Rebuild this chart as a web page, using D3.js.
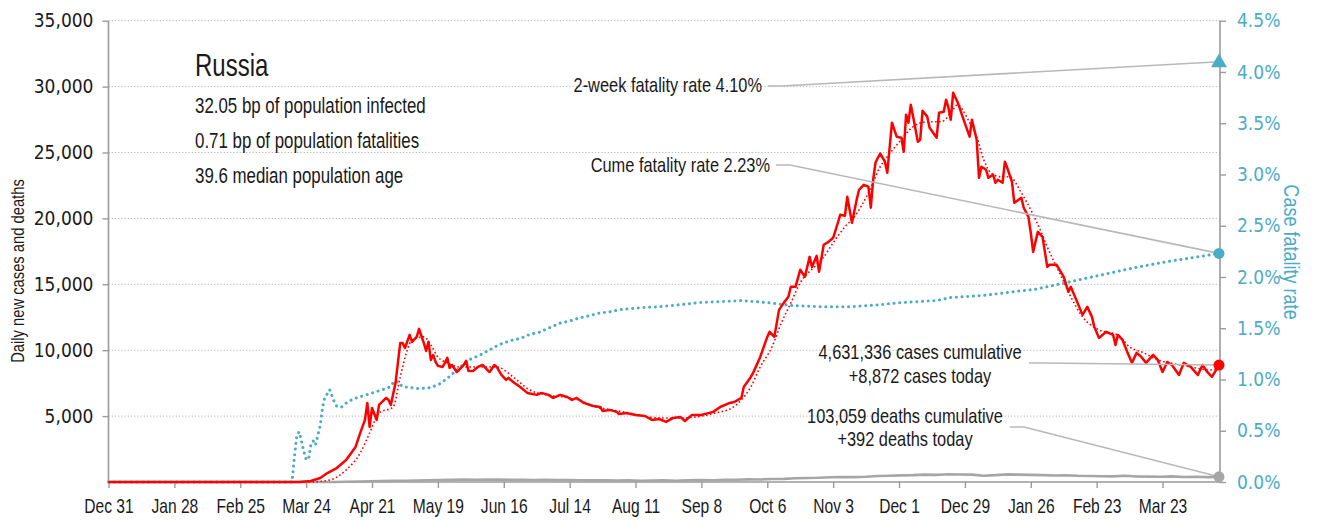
<!DOCTYPE html>
<html>
<head>
<meta charset="utf-8">
<script src="https://cdn.jsdelivr.net/npm/d3@7"></script>
<style>
  body { margin: 0; background: #fff; }
  text { font-family: "Liberation Sans", Arial, sans-serif; }
</style>
</head>
<body>
<svg id="chart" width="1319" height="522"></svg>
<script>
// ---- data ---------------------------------------------------------------
const startDate = "2019-12-31";
const endDate = "2021-04-16";

// daily new cases (day offset from start, count)
const caseDays = [0,81,86,90,93,97,101,105,107,109,110,111,112,114,115,118,119,120,122,124,125,126,128,129,131,132,134,135,136,137,138,139,140,142,143,144,145,146,148,149,151,152,153,155,157,159,161,162,164,165,167,169,170,172,175,178,182,184,187,189,192,195,197,199,202,206,209,210,213,216,217,220,224,228,231,234,237,240,243,245,248,252,257,260,264,266,269,270,273,274,277,280,281,283,285,287,289,290,292,294,296,298,299,301,302,304,306,308,310,311,313,314,316,318,319,321,323,324,325,326,327,328,330,331,333,334,335,337,338,339,340,341,342,344,345,346,348,349,352,353,355,356,357,358,359,361,363,366,367,369,370,371,373,374,376,377,378,380,381,382,384,385,388,389,391,392,393,395,397,399,400,403,406,408,409,411,414,416,418,419,421,424,427,428,429,431,433,435,437,439,441,444,446,448,450,452,455,457,460,463,465,467,469,472];
const caseCounts = [0,0,80,300,680,1060,1670,2660,3720,4710,6000,4180,5620,4710,5850,6380,6230,5850,7520,10550,10550,10170,11160,10630,11010,11620,10550,9950,10630,9260,9640,9110,8810,8730,9040,9420,8660,8880,8350,8500,8880,9190,8430,8430,8730,8880,8500,8350,8880,8730,8120,7750,7900,7590,7210,6760,6610,6760,6610,6380,6610,6450,6230,6380,6000,5770,5690,5390,5470,5320,5160,5240,5090,5010,4710,4780,4560,4860,4940,4630,5090,5090,5320,5690,6000,6070,6380,7210,7970,8280,9490,11010,11390,11010,13060,13590,14050,14810,14810,16100,15570,17080,16320,17160,15950,18000,18220,18530,19670,20270,20200,21640,19670,21410,22170,22550,22400,20810,22930,24220,24600,24910,24300,23460,27260,26730,26200,26120,25060,27870,27260,28630,27720,25820,25970,28170,27720,26880,26120,28020,28090,29010,28400,27490,29540,28780,27720,26200,27490,25970,23080,23920,23690,23080,23310,22700,22930,22700,24300,23840,22780,21180,21560,20810,20120,18910,17460,18980,18600,16320,16480,16480,15570,14430,14810,13970,12680,13290,12530,11770,10930,11390,11160,10400,11160,10780,9870,9040,9800,9490,9040,9640,9260,8350,9110,8880,8120,9040,8730,8120,8880,8350,7970,8872];

// 7-day average of new cases
const avgDays = [0,86,94,101,107,111,115,121,124,127,129,134,137,140,144,149,158,165,172,179,186,193,200,207,214,221,229,235,243,250,258,265,269,273,277,282,286,290,294,300,304,308,313,317,323,328,331,337,342,348,354,358,361,363,366,369,372,375,379,383,388,392,396,399,405,409,414,421,429,434,440,446,451,460,468,472];
const avgCounts = [0,0,150,910,2200,3720,5240,5690,7970,10020,10780,11010,10400,9490,9040,8730,8730,8730,7970,6990,6610,6450,6230,5690,5470,5240,4940,4860,4860,4940,5240,5620,6230,7210,8730,10250,12070,13590,15110,16320,17080,18150,19360,20120,21940,23920,24680,25970,26960,27330,27330,28020,28630,28250,27260,26200,24450,23460,23160,23160,21940,20650,19130,17840,15570,14050,12530,11540,11160,10250,9800,9260,9040,8730,8500,8660];

// daily deaths
const deathDays = [0,81,96,101,106,111,116,121,126,131,136,141,146,151,156,161,166,171,176,181,186,191,196,201,206,211,216,221,226,231,236,241,246,251,257,262,267,272,277,282,287,292,297,302,307,312,317,322,327,332,337,342,347,352,357,362,367,372,377,382,387,392,397,402,407,412,417,422,427,432,437,442,447,452,457,462,467,472];
const deathCounts = [0,0,5,15,30,50,80,100,90,110,130,150,170,180,170,190,180,160,170,150,160,140,150,130,120,130,110,120,100,110,120,100,130,150,130,160,170,200,190,230,240,280,300,320,360,380,370,400,450,470,500,520,560,540,590,570,560,480,520,580,560,540,520,490,500,470,460,440,430,470,420,410,400,430,380,400,370,392];

// cumulative case fatality rate, percent
const cfrDays = [0,77,78,79,80,81,82,83,84,85,86,87,88,89,90,91,92,93,94,95,96,97,99,101,104,108,111,115,119,122,125,132,137,141,145,149,153,158,162,166,171,175,179,183,187,192,196,200,204,209,213,217,226,234,243,251,261,269,280,291,303,316,328,337,352,358,372,386,394,400,408,422,436,450,464,472];
const cfrRates = [0,0,0,0.24,0.45,0.49,0.40,0.30,0.22,0.22,0.36,0.40,0.36,0.46,0.55,0.73,0.83,0.86,0.90,0.84,0.78,0.74,0.73,0.77,0.81,0.84,0.86,0.89,0.92,0.99,0.93,0.91,0.92,0.96,1.03,1.11,1.19,1.24,1.29,1.34,1.38,1.40,1.44,1.46,1.50,1.55,1.57,1.60,1.62,1.65,1.66,1.68,1.70,1.71,1.73,1.75,1.76,1.77,1.75,1.72,1.71,1.71,1.73,1.75,1.77,1.80,1.82,1.86,1.88,1.91,1.95,2.02,2.09,2.15,2.20,2.23];

const twoWeekRate = 4.10;
const cumeRate = 2.23;
const casesToday = 8872;
const deathsToday = 392;
const casesCumulative = 4631336;
const deathsCumulative = 103059;

const tickDates = ["2019-12-31","2020-01-28","2020-02-25","2020-03-24","2020-04-21","2020-05-19","2020-06-16","2020-07-14","2020-08-11","2020-09-08","2020-10-06","2020-11-03","2020-12-01","2020-12-29","2021-01-26","2021-02-23","2021-03-23"];
const countTicks = [5000,10000,15000,20000,25000,30000,35000];
const rateTicks = [0,0.5,1,1.5,2,2.5,3,3.5,4,4.5];

const country = "Russia";
const infoLines = ["32.05 bp of population infected", "0.71 bp of population fatalities", "39.6 median population age"];

// ---- setup --------------------------------------------------------------
const svg = d3.select("#chart");
const parse = d3.utcParse("%Y-%m-%d");
const start = parse(startDate);
const dayToDate = d => d3.utcDay.offset(start, d);

const plotLeft = 108.5, plotRight = 1220, plotTop = 20.7, plotBottom = 482;
const x = d3.scaleUtc().domain([start, parse(endDate)]).range([plotLeft, 1219]);
const yL = d3.scaleLinear().domain([0, 35000]).range([plotBottom, plotTop]);
const yR = d3.scaleLinear().domain([0, 4.5]).range([plotBottom, plotTop]);

const red = "#ff0000", blue = "#4bacc6", gray = "#a6a6a6", axisGray = "#9a9a9a";
const textColor = "#1a1a1a";
const narrow = 0.82;            // horizontal squeeze for a condensed look
const tickFont = '"DejaVu Sans Condensed","DejaVu Sans",sans-serif';

const casesData = caseDays.map((d, i) => ({ date: dayToDate(d), v: caseCounts[i] }));
const avgData = avgDays.map((d, i) => ({ date: dayToDate(d), v: avgCounts[i] }));
const deathData = deathDays.map((d, i) => ({ date: dayToDate(d), v: deathCounts[i] }));
const cfrData = cfrDays.map((d, i) => ({ date: dayToDate(d), v: cfrRates[i] }));
const lastDate = casesData[casesData.length - 1].date;

// condensed label: positioned group, squeezed text inside
function label(transform, str, size, anchor = "start", color = textColor, squeeze = narrow) {
  const g = svg.append("g").attr("transform", transform);
  g.append("text").attr("transform", `scale(${squeeze},1)`)
    .attr("text-anchor", anchor).attr("fill", color)
    .style("font-size", size + "px").text(str);
  return g;
}

// ---- grid ---------------------------------------------------------------
svg.append("g").selectAll("line").data(countTicks).join("line")
  .attr("x1", plotLeft).attr("x2", plotRight)
  .attr("y1", d => yL(d)).attr("y2", d => yL(d))
  .attr("stroke", "#b4b4b4").attr("stroke-width", 1)
  .attr("stroke-dasharray", "1.2 2");

// ---- axes ---------------------------------------------------------------
function styleAxis(g) {
  g.select(".domain").attr("stroke", axisGray).attr("stroke-width", 1.6);
  g.selectAll(".tick line").attr("stroke", axisGray).attr("stroke-width", 1.4);
}

const xAxis = svg.append("g").attr("transform", `translate(0,${plotBottom})`)
  .call(d3.axisBottom(x).tickValues(tickDates.map(parse)).tickFormat(d3.utcFormat("%b %-d"))
    .tickSize(6).tickSizeOuter(0).tickPadding(11));
xAxis.select(".domain").attr("d", `M${plotLeft},0H${plotRight}`);
styleAxis(xAxis);
xAxis.selectAll(".tick text").attr("fill", textColor).attr("transform", `scale(0.78,1)`)
  .style("font-size", "20px").style("font-family", '"Liberation Sans",Arial,sans-serif');

const yAxisL = svg.append("g").attr("transform", `translate(${plotLeft},0)`)
  .call(d3.axisLeft(yL).tickValues(countTicks).tickFormat(d3.format(",")).tickSize(6).tickSizeOuter(0).tickPadding(9));
yAxisL.select(".domain").attr("d", `M0,${plotBottom}V${plotTop}`);
styleAxis(yAxisL);
yAxisL.selectAll(".tick text").attr("fill", textColor).style("font-size", "19px").style("font-family", tickFont);

const yAxisR = svg.append("g").attr("transform", `translate(${plotRight},0)`)
  .call(d3.axisRight(yR).tickValues(rateTicks).tickFormat(d => d.toFixed(1) + "%").tickSize(6).tickSizeOuter(0).tickPadding(11));
yAxisR.select(".domain").attr("d", `M0,${plotBottom}V${plotTop}`);
styleAxis(yAxisR);
yAxisR.selectAll(".tick text").attr("fill", blue).style("font-size", "19px").style("font-family", tickFont);

// axis titles
label(`translate(24,271) rotate(-90)`, "Daily new cases and deaths", 18, "middle");
label(`translate(1284,252) rotate(90)`, "Case fatality rate", 22, "middle", blue);

// ---- series -------------------------------------------------------------
const lineL = d3.line().x(d => x(d.date)).y(d => yL(d.v));
const lineR = d3.line().x(d => x(d.date)).y(d => yR(d.v));

svg.append("path").datum(deathData).attr("d", lineL)
  .attr("fill", "none").attr("stroke", gray).attr("stroke-width", 2.6).attr("stroke-linejoin", "round");

svg.append("path").datum(cfrData).attr("d", lineR)
  .attr("fill", "none").attr("stroke", blue).attr("stroke-width", 3)
  .attr("stroke-linecap", "round").attr("stroke-dasharray", "0.1 5.6");

svg.append("path").datum(avgData).attr("d", d3.line().curve(d3.curveMonotoneX).x(d => x(d.date)).y(d => yL(d.v)))
  .attr("fill", "none").attr("stroke", red).attr("stroke-width", 1.6)
  .attr("stroke-dasharray", "1.6 2.4");

svg.append("path").datum(casesData).attr("d", lineL)
  .attr("fill", "none").attr("stroke", red).attr("stroke-width", 2.5).attr("stroke-linejoin", "round");

// ---- annotations ----------------------------------------------------------
const leader = "#b8b8b8";
const fmt = d3.format(",");

function leaderLine(x0, y0, x1, y1) {
  svg.append("path").attr("d", `M${x0},${y0}H${x0 + 14}L${x1},${y1}`)
    .attr("fill", "none").attr("stroke", leader).attr("stroke-width", 1.6);
}

const endX = x(lastDate);

label(`translate(762,92)`, `2-week fatality rate ${twoWeekRate.toFixed(2)}%`, 20, "end");
leaderLine(768, 86, endX, yR(twoWeekRate));

label(`translate(770,172)`, `Cume fatality rate ${cumeRate.toFixed(2)}%`, 20, "end");
leaderLine(776, 165, endX, yR(cumeRate));

label(`translate(920,359)`, `${fmt(casesCumulative)} cases cumulative`, 20, "middle");
label(`translate(920,383)`, `+${fmt(casesToday)} cases today`, 20, "middle");
leaderLine(1029, 363, endX, yL(casesToday));

label(`translate(905,423)`, `${fmt(deathsCumulative)} deaths cumulative`, 20, "middle");
label(`translate(905,446)`, `+${deathsToday} deaths today`, 20, "middle");
leaderLine(1010, 427, endX, yL(deathsToday));

// end markers
svg.append("path").attr("d", d3.symbol(d3.symbolTriangle, 110)())
  .attr("transform", `translate(${endX},${yR(twoWeekRate) + 1})`).attr("fill", blue);
svg.append("circle").attr("cx", endX).attr("cy", yR(cumeRate)).attr("r", 5.5).attr("fill", blue);
svg.append("circle").attr("cx", endX).attr("cy", yL(casesToday)).attr("r", 5.5).attr("fill", red);
svg.append("circle").attr("cx", endX).attr("cy", yL(deathsToday)).attr("r", 5.5).attr("fill", gray);

// ---- title block ----------------------------------------------------------
label(`translate(195,76)`, country, 32, "start", textColor, 0.75);
infoLines.forEach((line, i) => label(`translate(195,${113 + i * 35.2})`, line, 22.5, "start", textColor, 0.75));
</script>
</body>
</html>
